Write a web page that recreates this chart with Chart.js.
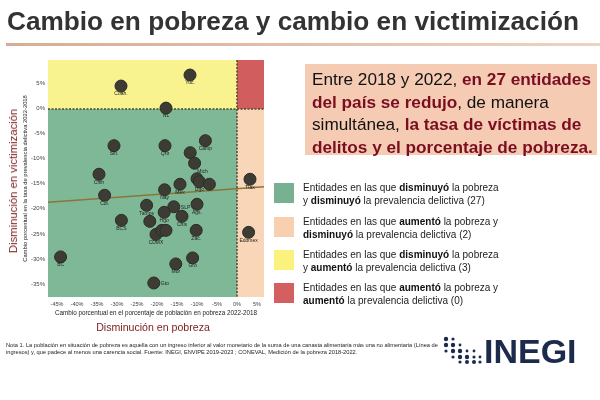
<!DOCTYPE html>
<html><head><meta charset="utf-8">
<script src="https://cdn.jsdelivr.net/npm/chart.js@4.4.1/dist/chart.umd.min.js"></script>
<style>
html,body{margin:0;padding:0;background:#fff;}
body{width:600px;height:400px;position:relative;overflow:hidden;font-family:'Liberation Sans',Arial,sans-serif;}
#c{position:absolute;left:0;top:0;}
.title{position:absolute;left:7px;top:6px;font-size:26.2px;font-weight:bold;color:#333;white-space:nowrap;}
.rule{position:absolute;left:6px;top:43px;width:594px;height:3px;background:linear-gradient(to right,#d6ad94,#ecd3c2);}
.box{position:absolute;left:305px;top:64px;width:292px;height:91px;background:#f5cbb3;}
.box p{margin:0;position:absolute;left:7px;top:4px;font-size:17.2px;line-height:22.5px;color:#111;white-space:nowrap;}
.r{color:#7a0e20;font-weight:bold;}
.sq{position:absolute;left:274px;width:20px;height:20px;}
.lg{position:absolute;left:303px;font-size:10px;line-height:12.5px;color:#222;white-space:nowrap;}
.lg b{color:#111;}
.ytitle{position:absolute;left:12.5px;top:181px;transform:translate(-50%,-50%) rotate(-90deg);font-size:11.3px;color:#7d1a1a;white-space:nowrap;}
.xtitle{position:absolute;left:153px;top:327px;transform:translate(-50%,-50%);font-size:10.6px;color:#7d1a1a;white-space:nowrap;}
.note{position:absolute;left:6px;top:342px;font-size:5.7px;line-height:6.5px;color:#222;white-space:nowrap;}
.logo{position:absolute;left:443px;top:336px;}
.inegi{position:absolute;left:484px;top:334px;font-size:34px;font-weight:bold;line-height:34px;color:#1c2b4c;}
</style></head>
<body>
<canvas id="c" width="600" height="400"></canvas>
<div class="title">Cambio en pobreza y cambio en victimización</div>
<div class="rule"></div>
<div class="box"><p>Entre 2018 y 2022, <span class="r">en 27 entidades</span><br><span class="r">del país se redujo</span>, de manera<br>simultánea, <span class="r">la tasa de víctimas de</span><br><span class="r">delitos y el porcentaje de pobreza.</span></p></div>

<div class="sq" style="top:183px;background:#77b191;"></div>
<div class="sq" style="top:217px;background:#f8d0b0;"></div>
<div class="sq" style="top:250px;background:#faf27c;"></div>
<div class="sq" style="top:283px;background:#d35f5f;"></div>
<div class="lg" style="top:182px;">Entidades en las que <b>disminuyó</b> la pobreza<br>y <b>disminuyó</b> la prevalencia delictiva (27)</div>
<div class="lg" style="top:216px;">Entidades en las que <b>aumentó</b> la pobreza y<br><b>disminuyó</b> la prevalencia delictiva (2)</div>
<div class="lg" style="top:249px;">Entidades en las que <b>disminuyó</b> la pobreza<br>y <b>aumentó</b> la prevalencia delictiva (3)</div>
<div class="lg" style="top:282px;">Entidades en las que <b>aumentó</b> la pobreza y<br><b>aumentó</b> la prevalencia delictiva (0)</div>

<div class="ytitle">Disminución en victimización</div>
<div class="xtitle">Disminución en pobreza</div>
<div class="note">Nota 1. La población en situación de pobreza es aquella con un ingreso inferior al valor monetario de la suma de una canasta alimentaria más una no alimentaria (Línea de<br>ingresos) y, que padece al menos una carencia social. Fuente: INEGI, ENVIPE 2019-2023 ; CONEVAL, Medición de la pobreza 2018-2022.</div>
<svg class="logo" width="40" height="28" viewBox="0 0 40 28">
<g fill="#1c2b4c">
<circle cx="3" cy="3" r="2.2"/><circle cx="10" cy="3" r="1.6"/>
<circle cx="3" cy="9" r="2.2"/><circle cx="10" cy="9" r="2.2"/><circle cx="17" cy="9" r="1.4"/>
<circle cx="3" cy="15" r="1.6"/><circle cx="10" cy="15" r="2.2"/><circle cx="17" cy="15" r="2.2"/><circle cx="24" cy="15" r="1.4"/><circle cx="31" cy="15" r="1.4"/>
<circle cx="10" cy="21" r="1.6"/><circle cx="17" cy="21" r="2.2"/><circle cx="24" cy="21" r="2.2"/><circle cx="31" cy="21" r="1.6"/><circle cx="37" cy="21" r="1.4"/>
<circle cx="17" cy="26" r="1.6"/><circle cx="24" cy="26" r="2"/><circle cx="31" cy="26" r="2"/><circle cx="37" cy="26" r="1.6"/>
</g></svg>
<div class="inegi">INEGI</div>

<script>
// ---- data ----
const stateLabels = ['Coah.','Yuc.','NL','Tlax','Edomex','Sin.','Qro','Camp','','Mich','Chih','','Dgo','','Mex','Nay','Col.','Tamps','SLP','Ags.','Hgo','Chis','BCS','','CDMX','','','Zac.','BC','Gro','Mor','Gto'];
const povertyChange = [-29,-11.75,-17.75,3.25,2.9,-30.75,-18,-7.9,-11.7,-10.6,-34.5,-10,-9.4,-6.9,-14.25,-18.1,-33.1,-22.6,-15.8,-10,-18.2,-13.75,-28.9,-21.8,-20.25,-18.8,-17.75,-10.2,-44.1,-11.1,-15.3,-20.8];
const victimChange = [4.5,6.7,0.1,-14.1,-24.7,-7.4,-7.4,-6.4,-8.8,-10.9,-13.1,-14.0,-14.6,-15.1,-15.1,-16.2,-17.3,-19.3,-19.6,-19.1,-20.7,-21.5,-22.3,-22.5,-25.1,-24.3,-24.3,-24.3,-29.6,-29.8,-31,-34.8];
const trendX = [-47.25, 6.75];
const trendY = [-18.7, -15.6];
const xTicks = [-45,-40,-35,-30,-25,-20,-15,-10,-5,0,5];
const yTicks = [-35,-30,-25,-20,-15,-10,-5,0,5];

// ---- styles ----
const FONT = "'Liberation Sans',Arial,sans-serif";
const labelSide = {SLP:'right', Gto:'right', Mich:'belowRight'};

const regionPlugin = {
  id:'regions',
  beforeDatasetsDraw(chart){
    const {ctx, chartArea:a, scales:{x,y}} = chart;
    const x0 = Math.round(x.getPixelForValue(0)), y0 = Math.round(y.getPixelForValue(0));
    ctx.save();
    ctx.fillStyle='#f9f38f'; ctx.fillRect(a.left,a.top,x0-a.left,y0-a.top);
    ctx.fillStyle='#d15d5e'; ctx.fillRect(x0,a.top,a.right-x0,y0-a.top);
    ctx.fillStyle='#7eb897'; ctx.fillRect(a.left,y0,x0-a.left,a.bottom-y0);
    ctx.fillStyle='#f9d6b8'; ctx.fillRect(x0,y0,a.right-x0,a.bottom-y0);
    ctx.strokeStyle='#4b4a30'; ctx.lineWidth=1.5; ctx.setLineDash([2,1.5]);
    ctx.beginPath(); ctx.moveTo(x0,a.top); ctx.lineTo(x0,a.bottom); ctx.stroke();
    ctx.beginPath(); ctx.moveTo(a.left,y0); ctx.lineTo(a.right,y0); ctx.stroke();
    ctx.restore();
  }
};
const labelPlugin = {
  id:'ptlabels',
  afterDatasetsDraw(chart){
    const {ctx} = chart;
    const meta = chart.getDatasetMeta(0);
    ctx.save();
    ctx.font = '5px '+FONT;
    ctx.fillStyle = '#222';
    ctx.textBaseline = 'middle';
    meta.data.forEach((el,i)=>{
      const t = stateLabels[i]; if(!t) return;
      const side = labelSide[t];
      if(side==='right'){ ctx.textAlign='left'; ctx.fillText(t, el.x+7, el.y+1); }
      else if(side==='belowRight'){ ctx.textAlign='center'; ctx.fillText(t, el.x+8, el.y+8); }
      else { ctx.textAlign='center'; ctx.fillText(t, el.x, el.y+8); }
    });
    ctx.restore();
  }
};

new Chart(document.getElementById('c'), {
  type:'scatter',
  data:{
    datasets:[
      {
        data: povertyChange.map((v,i)=>({x:v, y:victimChange[i]})),
        pointRadius:6, pointHoverRadius:6,
        backgroundColor:'#3d3c34', borderColor:'#2d2c26', borderWidth:1
      },
      {
        type:'line',
        data: trendX.map((v,i)=>({x:v, y:trendY[i]})),
        borderColor:'#8a7738', borderWidth:1.6, pointRadius:0, fill:false
      }
    ]
  },
  options:{
    responsive:false, animation:false, devicePixelRatio:1,
    layout:{padding:{left:0,right:336,top:60,bottom:81}},
    plugins:{legend:{display:false}, tooltip:{enabled:false}},
    scales:{
      x:{
        type:'linear', min:-47.25, max:6.75,
        grid:{display:false, drawTicks:false}, border:{display:false},
        afterBuildTicks(s){ s.ticks = xTicks.map(v=>({value:v})); },
        ticks:{font:{size:5.5, family:FONT}, color:'#444', padding:4, maxRotation:0, autoSkip:false, callback:v=>v+'%'},
        title:{display:true, text:'Cambio porcentual en el porcentaje de población en pobreza 2022-2018', font:{size:6.3, family:FONT}, color:'#222', padding:{top:0,bottom:2}},
        afterFit(s){ s.height = 22; }
      },
      y:{
        type:'linear', min:-37.6, max:9.7,
        grid:{display:false, drawTicks:false}, border:{display:false},
        afterBuildTicks(s){ s.ticks = yTicks.map(v=>({value:v})); },
        ticks:{font:{size:6, family:FONT}, color:'#444', padding:3, autoSkip:false, callback:v=>v+'%'},
        title:{display:true, text:'Cambio porcentual en la tasa de prevalencia delictiva 2022-2018', font:{size:5.8, family:FONT}, color:'#222', padding:{top:22,bottom:0}},
        afterFit(s){ s.width = 48; }
      }
    }
  },
  plugins:[regionPlugin, labelPlugin]
});
</script>
</body></html>
